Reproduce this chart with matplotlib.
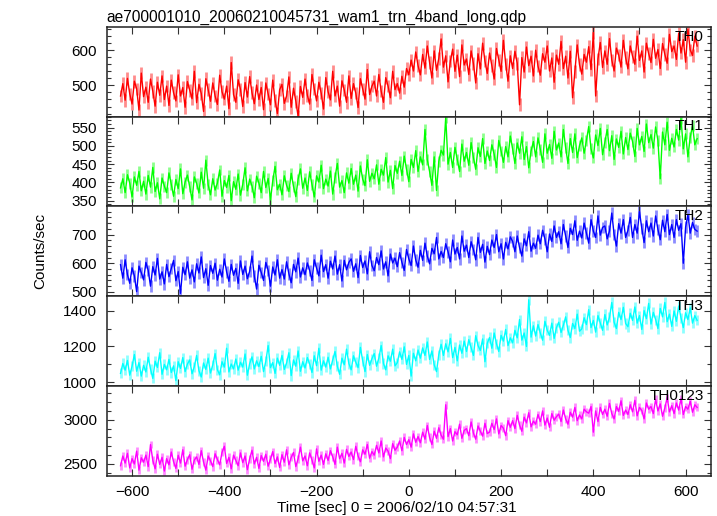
import matplotlib
matplotlib.use("Agg")
import matplotlib.pyplot as plt
from matplotlib.ticker import MultipleLocator
import numpy as np

plt.rcParams["font.family"] = ["Liberation Sans", "DejaVu Sans"]
plt.rcParams["font.size"] = 11

# 5 s bins, -625 .. 625 sec
time = np.arange(-625, 626, 5)

th0 = [
    470, 505, 458, 520, 476, 447, 512, 490, 430, 535,
    468, 495, 452, 518, 483, 441, 509, 472, 527, 460,
    498, 443, 515, 479, 456, 530, 470, 494, 438, 511,
    486, 462, 540, 451, 503, 477, 426, 519, 488, 455,
    507, 470, 446, 529, 482, 461, 498, 434, 565, 474,
    452, 516, 489, 440, 508, 467, 525, 479, 448, 501,
    460, 494, 431, 507, 476, 445, 515, 458, 420, 488,
    503, 449, 470, 524, 438, 492, 455, 412, 497, 466,
    518, 472, 447, 531, 490, 456, 509, 478, 433, 522,
    482, 459, 540, 470, 498, 441, 513, 487, 452, 527,
    463, 505, 478, 437, 519, 490, 461, 545, 474, 498,
    512, 470, 531, 484, 452, 522, 498, 465, 540, 488,
    505, 478, 526, 495, 548, 530, 572, 541, 595, 556,
    530, 588, 549, 612, 565, 521, 598, 543, 577, 632,
    552, 584, 510, 569, 603, 540, 586, 525, 615, 558,
    575, 531, 598, 562, 507, 590, 547, 620, 569, 534,
    592, 556, 518, 605, 572, 540, 628, 561, 512, 584,
    548, 597, 563, 445, 579, 538, 609, 556, 583, 527,
    600, 555, 529, 590, 566, 612, 541, 578, 509, 586,
    560, 625, 548, 583, 521, 597, 465, 540, 615, 559,
    532, 588, 566, 610, 545, 650, 470, 575, 622, 551,
    598, 560, 633, 572, 541, 606, 586, 552, 628, 579,
    547, 612, 583, 560, 640, 571, 598, 538, 620, 590,
    565, 631, 577, 602, 548, 619, 588, 563, 645, 596,
    612, 574, 648, 592, 630, 566, 660, 601, 585, 640,
    612,
]

th1 = [
    385, 410, 372, 421, 398, 360, 415, 392, 430, 377,
    403, 368, 419, 387, 441, 375, 399, 355, 412, 390,
    372, 426, 395, 362, 408, 383, 437, 369, 401, 420,
    388, 352, 415, 397, 371, 428, 384, 461, 393, 366,
    410, 379, 398, 434, 362, 405, 386, 419, 350, 402,
    381, 423, 365, 395, 440, 377, 409, 390, 358, 417,
    398, 372, 430, 386, 411, 352, 404, 444, 380, 395,
    366, 418, 392, 375, 425, 389, 361, 409, 437, 384,
    412, 378, 429, 395, 360, 418, 401, 447, 383, 409,
    390, 431, 368, 414, 452, 387, 405, 372, 426, 398,
    438, 395, 420, 376, 445, 409, 391, 462, 403, 425,
    410, 448, 395, 436, 420, 468, 401, 433, 383, 446,
    425, 458, 419, 472, 436, 402, 463, 441, 487, 430,
    470, 448, 545, 462, 430, 392, 470, 378, 458, 488,
    475, 578, 450, 482, 441, 496, 463, 430, 505, 458,
    482, 447, 509, 468, 436, 495, 471, 520, 452, 486,
    460, 503, 477, 441, 515, 486, 455, 498, 470, 527,
    492, 452, 508, 480, 525, 463, 498, 440, 486, 512,
    470, 522, 491, 455, 533, 480, 504, 466, 540, 489,
    508, 470, 545, 495, 452, 520, 482, 533, 468, 501,
    522, 480, 515, 553, 492, 467, 530, 501, 548, 476,
    510, 545, 487, 528, 463, 519, 496, 540, 478, 523,
    490, 535, 512, 471, 548, 503, 526, 485, 560, 509,
    531, 494, 552, 515, 410, 538, 503, 565, 488, 521,
    497, 545, 516, 575, 492, 533, 470, 524, 556, 503,
    520,
]

th2 = [
    595, 548, 612, 560, 530, 584, 556, 501, 590, 567,
    542, 603, 575, 520, 588, 559, 617, 545, 570, 528,
    596, 553, 582, 610, 539, 571, 495, 586, 560, 605,
    548, 577, 535, 598, 566, 622, 550, 581, 523, 592,
    565, 600, 541, 579, 552, 615, 570, 537, 596, 558,
    582, 530, 608, 561, 590, 546, 572, 625, 555, 510,
    593, 568, 540, 603, 575, 520, 587, 559, 612, 548,
    578, 545, 605, 563, 532, 596, 570, 618, 552, 584,
    560, 601, 575, 540, 612, 583, 556, 628, 571, 595,
    548, 607, 580, 625, 562, 595, 538, 610, 577, 603,
    615, 572, 598, 550, 627, 585, 608, 563, 640, 592,
    574, 620, 595, 643, 580, 605, 556, 632, 601, 618,
    588, 637, 603, 575, 648, 615, 592, 660, 611, 586,
    645, 610, 670, 625, 598, 652, 633, 690, 615, 641,
    620, 668, 640, 605, 681, 632, 655, 615, 695, 642,
    663, 620, 675, 648, 612, 690, 638, 666, 604, 659,
    630, 681, 655, 700, 640, 668, 615, 673, 650, 692,
    676, 640, 695, 655, 625, 685, 661, 710, 642, 670,
    652, 698, 668, 715, 685, 640, 702, 676, 730, 690,
    710, 668, 735, 695, 655, 722, 700, 748, 680, 712,
    688, 740, 705, 670, 752, 712, 690, 765, 698, 725,
    730, 685, 712, 775, 700, 660, 738, 705, 752, 690,
    715, 760, 690, 735, 705, 780, 722, 672, 748, 710,
    740, 695, 765, 718, 682, 750, 710, 770, 700, 735,
    690, 752, 715, 738, 600, 726, 770, 705, 742, 718,
    712,
]

th3 = [
    1050, 1105, 1068, 1122, 1040, 1090, 1155, 1062, 1110, 1035,
    1095, 1058, 1140, 1075, 1022, 1118, 1083, 1165, 1045, 1100,
    1070, 1128, 1055, 1092, 1010, 1115, 1078, 1138, 1060, 1102,
    1125, 1048, 1088, 1150, 1065, 1030, 1108, 1072, 1135, 1052,
    1098, 1160, 1070, 1042, 1115, 1085, 1190, 1058, 1102, 1075,
    1130, 1068, 1112, 1085, 1158, 1040, 1105, 1142, 1075, 1120,
    1088, 1145, 1060, 1118, 1205, 1082, 1110, 1050, 1135, 1095,
    1150, 1072, 1108, 1165, 1038, 1125, 1090, 1175, 1062, 1115,
    1080, 1138, 1102, 1055, 1148, 1093, 1190, 1068, 1120, 1085,
    1140, 1075, 1125, 1172, 1090, 1045, 1135, 1098, 1185, 1105,
    1070, 1148, 1112, 1082, 1195, 1120, 1060, 1155, 1095, 1132,
    1160, 1090, 1135, 1205, 1105, 1070, 1148, 1118, 1185, 1092,
    1110, 1170, 1128, 1198, 1100, 1150, 1035, 1162, 1120, 1180,
    1135, 1192, 1150, 1225, 1128, 1175, 1098, 1060, 1155, 1212,
    1150, 1215, 1170, 1245, 1138, 1195, 1120, 1208, 1162, 1230,
    1172, 1238, 1195, 1150, 1260, 1205, 1178, 1242, 1115, 1218,
    1250, 1190, 1275, 1215, 1172, 1262, 1230, 1295, 1205, 1248,
    1220, 1290, 1248, 1350, 1235, 1275, 1200, 1460, 1252, 1315,
    1258, 1322, 1275, 1235, 1340, 1290, 1262, 1330, 1245, 1305,
    1335, 1278, 1318, 1365, 1290, 1250, 1328, 1300, 1380, 1285,
    1298, 1360, 1322, 1405, 1305, 1345, 1280, 1372, 1330, 1290,
    1378, 1320, 1362, 1445, 1335, 1300, 1390, 1350, 1418, 1328,
    1310, 1385, 1345, 1420, 1330, 1372, 1295, 1400, 1355, 1440,
    1325, 1390, 1350, 1300, 1412, 1365, 1445, 1338, 1380, 1312,
    1398, 1340, 1425, 1360, 1305, 1388, 1350, 1415, 1330, 1372,
    1345,
]

th0123 = [
    2480, 2590, 2510, 2620, 2455, 2560, 2500, 2645, 2430, 2570,
    2520, 2600, 2470, 2720, 2540, 2445, 2610, 2495, 2575, 2420,
    2560, 2490, 2635, 2525, 2450, 2598, 2510, 2660, 2475, 2550,
    2605, 2440, 2545, 2580, 2495, 2650, 2520, 2430, 2590, 2535,
    2470, 2615, 2550, 2490, 2630, 2700, 2505, 2575, 2445, 2600,
    2540, 2480, 2625, 2515, 2590, 2435, 2560, 2655, 2500, 2575,
    2450, 2595, 2530, 2610, 2475, 2555, 2640, 2505, 2580, 2460,
    2605, 2520, 2660, 2490, 2575, 2630, 2470, 2560, 2690, 2535,
    2590, 2480, 2625, 2545, 2455, 2670, 2530, 2600, 2495, 2615,
    2540, 2650, 2580, 2495, 2690, 2560, 2620, 2510, 2665, 2585,
    2635, 2550, 2700, 2590, 2525, 2660, 2610, 2720, 2565, 2640,
    2600, 2710, 2625, 2760, 2580, 2680, 2645, 2560, 2730, 2655,
    2690, 2760, 2650, 2800, 2720, 2775, 2690, 2840, 2745, 2810,
    2740, 2860, 2780, 2935, 2800, 2720, 2870, 2790, 2910, 2825,
    2780, 3170, 2810, 2900, 2760, 2865, 2830, 2950, 2790, 2880,
    2900, 2820, 2975, 2850, 2780, 2930, 2870, 2815, 2960, 2845,
    2860, 2960, 2890, 3010, 2840, 2935, 2905, 2820, 2990, 2915,
    2990, 2900, 3050, 2940, 2870, 3030, 2965, 3080, 2920, 2985,
    2950, 3060, 2980, 3100, 2940, 3020, 2915, 3070, 2995, 3035,
    3065, 2980, 3110, 3010, 2950, 3085, 3030, 3140, 2990, 3055,
    3010, 3120, 3090, 3075, 3150, 2860, 3100, 2980, 3140, 3060,
    3120, 3040, 3185, 3070, 3010, 3150, 3095, 3215, 3050, 3110,
    3060, 3170, 3090, 3220, 3045, 3140, 3105, 3010, 3190, 3120,
    3150, 3070, 3230, 3100, 3180, 3040, 3135, 3250, 3090, 3160,
    3070, 3190, 3110, 3240, 3060, 3150, 3120, 3210, 3085, 3170,
    3140,
]

# typical 1-sigma error of a bin in each band (read off the light shading)
errs = [18, 15, 20, 28, 45]

names = ["TH0", "TH1", "TH2", "TH3", "TH0123"]
series = [th0, th1, th2, th3, th0123]
colors = ["#ff0000", "#00ff00", "#0000ff", "#00ffff", "#ff00ff"]
light = ["#ff8c8c", "#8cff8c", "#8c8cff", "#8cffff", "#ff8cff"]
ylims = [(411, 666), (334, 580), (485, 798), (980, 1480), (2367, 3383)]
major = [100, 50, 100, 200, 500]
minor = [20, 10, 20, 100, 100]

fig = plt.figure(figsize=(7.17, 5.16), dpi=100)

left, right = 0.1488, 0.9916
bottom, top = 0.0781, 0.9477
h = (top - bottom) / 5

for i in range(5):
    ax = fig.add_axes([left, top - (i + 1) * h, right - left, h])
    ax.errorbar(time, series[i], yerr=errs[i], fmt="none",
                ecolor=light[i], elinewidth=2.0, zorder=1)
    ax.plot(time, series[i], color=colors[i], lw=1.0, zorder=2)
    ax.set_xlim(-655, 655)
    ax.set_ylim(*ylims[i])
    ax.xaxis.set_major_locator(MultipleLocator(200))
    ax.xaxis.set_minor_locator(MultipleLocator(100))
    ax.yaxis.set_major_locator(MultipleLocator(major[i]))
    ax.yaxis.set_minor_locator(MultipleLocator(minor[i]))
    ax.tick_params(which="both", direction="in", top=True, right=True,
                   width=0.8, color="#333333")
    ax.tick_params(which="major", length=5, pad=7)
    ax.tick_params(which="minor", length=3)
    ax.tick_params(axis="x", which="minor", length=5)
    for s in ax.spines.values():
        s.set_linewidth(1.1)
        s.set_color("#222222")
    if i < 4:
        ax.tick_params(labelbottom=False)
    ax.text(0.988, 0.97, names[i], transform=ax.transAxes,
            ha="right", va="top", fontsize=11, zorder=5)
    if i == 0:
        ax.set_title("ae700001010_20060210045731_wam1_trn_4band_long.qdp",
                     loc="left", fontsize=11.2, pad=4)

fig.text(0.056, 0.513, "Counts/sec", rotation=90, ha="center", va="center",
         fontsize=11)
fig.text(0.554, 0.016, "Time [sec] 0 = 2006/02/10 04:57:31", ha="center",
         va="center", fontsize=11)

fig.savefig("out.png", dpi=100)
